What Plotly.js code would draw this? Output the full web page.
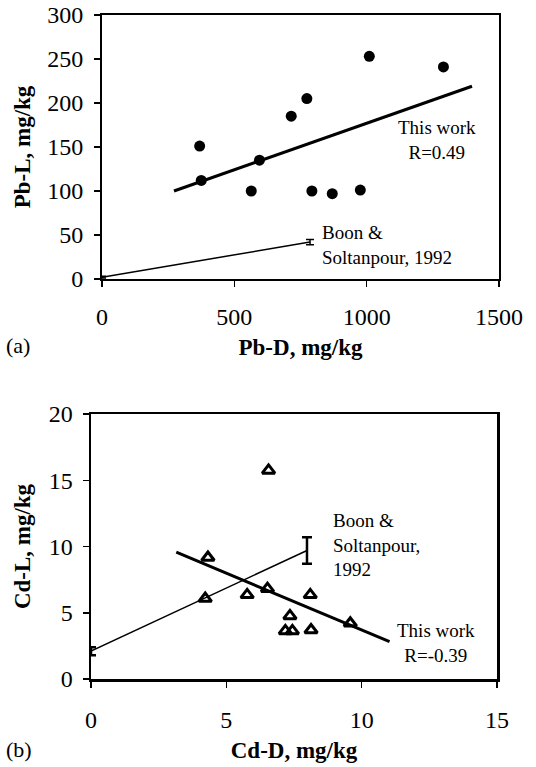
<!DOCTYPE html>
<html>
<head>
<meta charset="utf-8">
<script src="https://cdn.plot.ly/plotly-3.0.1.min.js"></script>
<style>html,body{margin:0;padding:0;background:#fff;}#chart{width:536px;height:767px;}</style>
</head>
<body>
<div id="chart"></div>
<script>
// ---- Panel (a): Pb ----
const pbD = [369, 375, 564, 595, 715, 774, 793, 870, 976, 1010, 1290];
const pbL = [151, 112, 100, 135, 185, 205, 100, 97, 101, 253, 241];
const pbFitX = [272, 1398];
const pbFitY = [100, 219];
const pbBoonX = [0, 786];
const pbBoonY = [2, 42];
const pbBoonErr = [1, 3];
const pbXTicks = [0, 500, 1000, 1500];
const pbYTicks = [0, 50, 100, 150, 200, 250, 300];

// ---- Panel (b): Cd ----
const cdD = [6.56, 4.32, 4.22, 5.77, 6.52, 8.10, 7.35, 7.18, 7.44, 8.13, 9.58];
const cdL = [15.74, 9.17, 6.07, 6.35, 6.82, 6.35, 4.76, 3.63, 3.63, 3.70, 4.21];
const cdFitX = [3.15, 11.03];
const cdFitY = [9.57, 2.82];
const cdBoonX = [0, 7.98];
const cdBoonY = [2.1, 9.7];
const cdBoonErr = [0.3, 1.0];
const cdXTicks = [0, 5, 10, 15];
const cdYTicks = [0, 5, 10, 15, 20];

const W = 536, H = 767;
const px = v => v / W;
const py = v => 1 - v / H;
const FONT = "Liberation Serif, Times New Roman, serif";

const traces = [
  {x: pbBoonX, y: pbBoonY, xaxis: 'x', yaxis: 'y', mode: 'lines', type: 'scatter',
   line: {color: '#000', width: 1.5},
   error_y: {type: 'data', array: pbBoonErr, visible: true, color: '#000', thickness: 1.5, width: 4}},
  {x: pbFitX, y: pbFitY, xaxis: 'x', yaxis: 'y', mode: 'lines', type: 'scatter',
   line: {color: '#000', width: 3}},
  {x: pbD, y: pbL, xaxis: 'x', yaxis: 'y', mode: 'markers', type: 'scatter',
   marker: {symbol: 'circle', size: 11, color: '#000'}},
  {x: cdBoonX, y: cdBoonY, xaxis: 'x2', yaxis: 'y2', mode: 'lines', type: 'scatter',
   line: {color: '#000', width: 1.5},
   error_y: {type: 'data', array: cdBoonErr, visible: true, color: '#000', thickness: 2.5, width: 5}},
  {x: cdFitX, y: cdFitY, xaxis: 'x2', yaxis: 'y2', mode: 'lines', type: 'scatter',
   line: {color: '#000', width: 3}},
  {x: cdD, y: cdL, xaxis: 'x2', yaxis: 'y2', mode: 'markers', type: 'scatter',
   marker: {symbol: 'triangle-up-open', size: 11, color: '#000', line: {color: '#000', width: 3}}}
];

const axCommon = {
  showgrid: false, zeroline: false, showline: true, linecolor: '#000', linewidth: 2,
  mirror: true, ticks: 'outside', ticklen: 6, tickwidth: 1.5, tickcolor: '#000',
  tickfont: {family: FONT, size: 24, color: '#000'}, fixedrange: true
};
const titleFont = {family: FONT, size: 23, color: '#000', weight: 'bold'};

const layout = {
  width: W, height: H,
  margin: {l: 0, r: 0, t: 0, b: 0},
  paper_bgcolor: '#fff', plot_bgcolor: '#fff',
  showlegend: false,
  xaxis: Object.assign({}, axCommon, {
    domain: [px(102), px(499)], range: [0, 1500], anchor: 'y',
    tickvals: pbXTicks, ticktext: pbXTicks.map(String), ticklabelstandoff: 9,
    title: {text: '<b>Pb-D, mg/kg</b>', font: titleFont, standoff: 10}
  }),
  yaxis: Object.assign({}, axCommon, {
    domain: [py(279), py(15)], range: [0, 300], anchor: 'x',
    tickvals: pbYTicks, ticktext: pbYTicks.map(String), ticklabelstandoff: 6,
    title: {text: '<b>Pb-L, mg/kg</b>', font: titleFont, standoff: 10}
  }),
  xaxis2: Object.assign({}, axCommon, {
    domain: [px(91), px(497)], range: [0, 15], anchor: 'y2', linewidth: 2.5,
    tickvals: cdXTicks, ticktext: cdXTicks.map(String), ticklabelstandoff: 12,
    title: {text: '<b>Cd-D, mg/kg</b>', font: titleFont, standoff: 10}
  }),
  yaxis2: Object.assign({}, axCommon, {
    domain: [py(679), py(414)], range: [0, 20], anchor: 'x2', linewidth: 2.5,
    tickvals: cdYTicks, ticktext: cdYTicks.map(String), ticklabelstandoff: 5,
    title: {text: '<b>Cd-L, mg/kg</b>', font: titleFont, standoff: 12}
  }),
  annotations: [
    {xref: 'paper', yref: 'paper', x: px(437), y: py(140), text: 'This work<br>R=0.49',
     showarrow: false, align: 'center', xanchor: 'center', yanchor: 'middle',
     font: {family: FONT, size: 19, color: '#000'}},
    {xref: 'paper', yref: 'paper', x: px(320), y: py(245), text: 'Boon &amp;<br>Soltanpour, 1992',
     showarrow: false, align: 'left', xanchor: 'left', yanchor: 'middle',
     font: {family: FONT, size: 19, color: '#000'}},
    {xref: 'paper', yref: 'paper', x: px(331), y: py(545), text: 'Boon &amp;<br>Soltanpour,<br>1992',
     showarrow: false, align: 'left', xanchor: 'left', yanchor: 'middle',
     font: {family: FONT, size: 19, color: '#000'}},
    {xref: 'paper', yref: 'paper', x: px(436), y: py(643), text: 'This work<br>R=-0.39',
     showarrow: false, align: 'center', xanchor: 'center', yanchor: 'middle',
     font: {family: FONT, size: 19, color: '#000'}},
    {xref: 'paper', yref: 'paper', x: px(4), y: py(346), text: '(a)',
     showarrow: false, xanchor: 'left', yanchor: 'middle',
     font: {family: FONT, size: 22, color: '#000'}},
    {xref: 'paper', yref: 'paper', x: px(4), y: py(749), text: '(b)',
     showarrow: false, xanchor: 'left', yanchor: 'middle',
     font: {family: FONT, size: 22, color: '#000'}}
  ]
};

Plotly.newPlot('chart', traces, layout, {staticPlot: true, displayModeBar: false});
</script>
</body>
</html>
